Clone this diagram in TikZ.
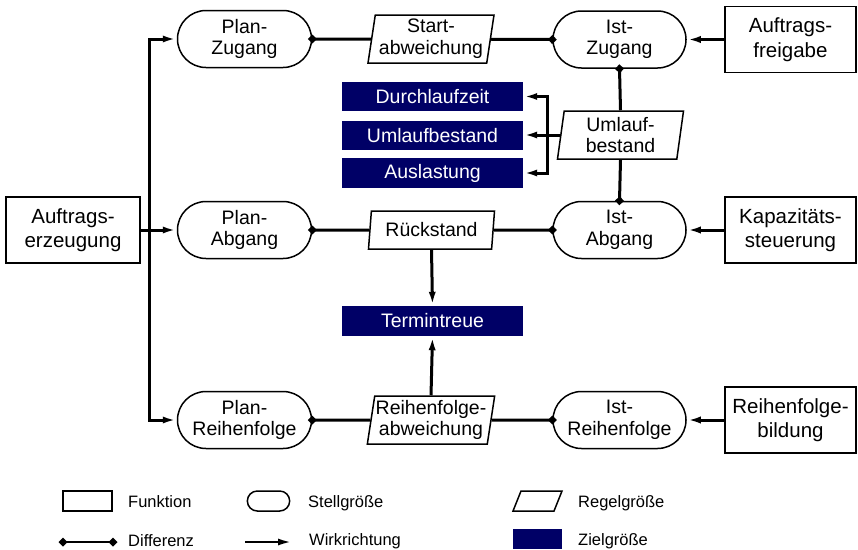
\documentclass[tikz,border=0pt]{standalone}
\usepackage{fontspec}
\setmainfont{Liberation Sans}
\usetikzlibrary{arrows.meta,shapes.misc,shapes.geometric}
\definecolor{zielblau}{RGB}{0,0,102}
\tikzset{
  mainfont/.style={font=\fontsize{19.5}{21.6}\selectfont},
  funktion/.style={draw, line width=1.7pt, rectangle, minimum width=131pt, minimum height=66pt,
    align=center, font=\fontsize{20.5}{24.5}\selectfont},
  stell/.style={draw, line width=1.5pt, rounded rectangle, rounded rectangle arc length=180,
    minimum width=136pt, minimum height=57pt, inner sep=1pt, align=center, mainfont},
  regel/.style={draw, line width=1.5pt, trapezium, trapezium left angle=80, trapezium right angle=100,
    trapezium stretches body=true, minimum width=126pt, minimum height=48pt, inner sep=1pt,
    align=center, mainfont},
  ziel/.style={fill=zielblau, text=white, rectangle, minimum width=181pt, minimum height=29.5pt,
    inner sep=0pt, mainfont},
  con/.style={line width=3pt},
  wirk/.style={con, -{Latex[length=14pt,width=7pt]}},
  diff/.style={con, -{Turned Square[length=9pt,width=9pt]}, shorten >=-4.5pt},
  legtext/.style={anchor=base west, inner sep=0pt, font=\fontsize{16.5}{18}\selectfont},
}
\begin{document}
\begin{tikzpicture}[x=1pt, y=-1pt]
\useasboundingbox (0,0) rectangle (858,549);

% functions
\node[funktion, minimum width=134pt] (aez) at (73,230) {Auftrags-\\erzeugung};
\node[funktion] (afg) at (790.5,39.5) {Auftrags-\\freigabe};
\node[funktion] (kap) at (790.5,230) {Kapazitäts-\\steuerung};
\node[funktion] (rfb) at (790.5,420) {Reihenfolge-\\bildung};

% control variables
\node[stell] (pz) at (244.5,39) {Plan-\\Zugang};
\node[stell] (pa) at (244.5,230) {Plan-\\Abgang};
\node[stell] (pr) at (244.5,420) {Plan-\\Reihenfolge};
\node[stell, minimum width=135pt] (iz) at (619.5,39.5) {Ist-\\Zugang};
\node[stell, minimum width=135pt] (ia) at (619.5,230) {Ist-\\Abgang};
\node[stell, minimum width=135pt] (ir) at (619.5,420) {Ist-\\Reihenfolge};

% controlled variables
\node[regel] (sa) at (431,39) {Start-\\abweichung};
\node[regel, minimum height=38pt] (rs) at (431.5,230) {Rückstand};
\node[regel] (ra) at (431,420) {Reihenfolge-\\abweichung};
\node[regel] (ub) at (620.5,135) {Umlauf-\\bestand};

% target variables
\node[ziel] (dlz) at (432.5,96.5) {Durchlaufzeit};
\node[ziel] (ulb) at (432.5,135.5) {Umlaufbestand};
\node[ziel] (ausl) at (432.5,173) {Auslastung};
\node[ziel, minimum height=30pt] (tt) at (432.5,321) {Termintreue};

% distribution from order generation
\coordinate (trunk) at (149,230);
\draw[wirk] (aez.east) -- (pa.west);
\draw[con, line join=miter, {Latex[length=14pt,width=7pt]}-{Latex[length=14pt,width=7pt]}]
  (pz.west) -- (trunk |- pz.west) -- (trunk |- pr.west) -- (pr.west);

% differences
\draw[diff] (sa) -- (pz.east);
\draw[diff] (sa) -- (iz.west);
\draw[diff] (rs) -- (pa.east);
\draw[diff] (rs) -- (ia.west);
\draw[diff] (ra) -- (pr.east);
\draw[diff] (ra) -- (ir.west);
\draw[diff] (ub.north) -- (iz.south);
\draw[diff] (ub.south) -- (ia.north);

% effects
\draw[wirk] (afg.west) -- (iz.east);
\draw[wirk] (kap.west) -- (ia.east);
\draw[wirk] (rfb.west) -- (ir.east);
\draw[wirk] (rs.south) -- (tt.north);
\draw[wirk] (ra.north) -- (tt.south);

\coordinate (br) at (547,135);
\draw[wirk] (ub.west) -- (ub.west -| ulb.east);
\draw[con, line join=miter, {Latex[length=14pt,width=7pt]}-{Latex[length=14pt,width=7pt]}]
  (dlz.east) -- (br |- dlz.east) -- (br |- ausl.east) -- (ausl.east);

% legend
\node[draw, line width=1.5pt, rectangle, minimum width=49pt, minimum height=20pt] (lf) at (87.5,501) {};
\node[legtext] (lft) at (128,507.5) {Funktion};
\node[draw, line width=1.5pt, rounded rectangle, minimum width=49pt, minimum height=20pt] (ls) at (268.5,501) {};
\node[legtext] (lst) at (308,507.5) {Stellgröße};
\draw[line width=1.5pt, line join=miter] (513,511) -- (521,491) -- (562,491) -- (554,511) -- cycle;
\node[legtext] (lrt) at (578,507.5) {Regelgröße};
\node[fill=zielblau, rectangle, minimum width=49pt, minimum height=20pt, inner sep=0pt] (lz) at (537.5,539) {};
\node[legtext] (lzt) at (578,545.7) {Zielgröße};

\coordinate (ld1) at (63,542);
\coordinate (ld2) at (113,542);
\draw[con, line width=2.5pt, {Turned Square[length=9pt,width=9pt]}-{Turned Square[length=9pt,width=9pt]},
  shorten <=-4.5pt, shorten >=-4.5pt] (ld1) -- (ld2);
\node[legtext] (ldt) at (128,546) {Differenz};
\coordinate (lw1) at (245,542);
\coordinate (lw2) at (292,542);
\draw[con, line width=2.5pt, -{Latex[length=14pt,width=7pt]}] (lw1) -- (lw2);
\node[legtext] (lwt) at (309,545.7) {Wirkrichtung};
\end{tikzpicture}
\end{document}
